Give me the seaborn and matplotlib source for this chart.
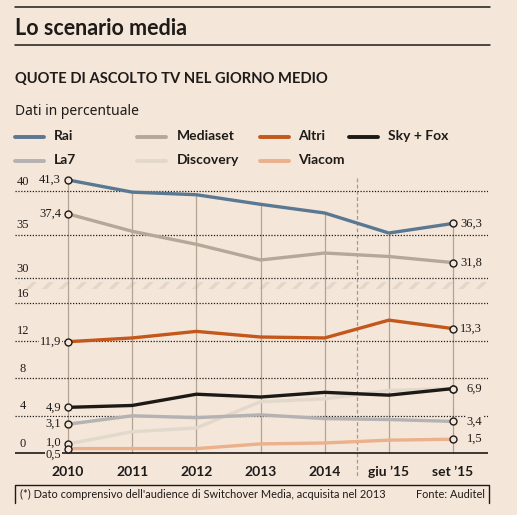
import matplotlib
matplotlib.use('Agg')
import matplotlib.pyplot as plt
from matplotlib import transforms
from matplotlib.lines import Line2D
from matplotlib.patches import Rectangle
import pandas as pd
import seaborn as sns

# dati (quote % di ascolto nel giorno medio)
periodi = ['2010', '2011', '2012', '2013', '2014', 'giu ’15', 'set ’15']
rai = [41.3, 39.9, 39.6, 38.5, 37.5, 35.2, 36.3]
mediaset = [37.4, 35.4, 33.9, 32.1, 32.9, 32.5, 31.8]
altri = [11.9, 12.3, 13.0, 12.4, 12.3, 14.2, 13.3]
sky_fox = [4.9, 5.1, 6.3, 6.0, 6.5, 6.2, 6.9]
la7 = [3.1, 4.0, 3.8, 4.1, 3.7, 3.6, 3.4]
discovery = [1.0, 2.3, 2.7, 5.5, 5.8, 6.7, 6.9]
viacom = [0.5, 0.5, 0.5, 1.0, 1.1, 1.4, 1.5]

emittenti = ['Rai', 'Mediaset', 'Altri', 'Sky + Fox', 'La7', 'Discovery', 'Viacom']
serie = [rai, mediaset, altri, sky_fox, la7, discovery, viacom]
colori = ['#5b7892', '#b5a898', '#c4571c', '#1d1a15', '#b4b2b2', '#e2d8cc', '#ebb08c']
ordine_disegno = ['Discovery', 'La7', 'Viacom', 'Mediaset', 'Altri', 'Sky + Fox', 'Rai']

tick_alti = [30, 35, 40]
tick_bassi = [0, 4, 8, 12, 16]

BG = '#f4e6d9'
DARK = '#1e1b18'
SANS = ['Lato', 'DejaVu Sans']
SERIF = ['Liberation Serif', 'DejaVu Serif']

sns.set_style('white', {'axes.facecolor': 'none', 'figure.facecolor': BG})
plt.rcParams['font.family'] = SANS
plt.rcParams['hatch.linewidth'] = 2.5

W, H = 517, 515
fig = plt.figure(figsize=(W / 100, H / 100), dpi=100)


def fx(px):
    return px / W


def fy(py):
    return 1 - py / H


df = pd.DataFrame({
    'pos': list(range(len(periodi))) * len(emittenti),
    'quota': [v for s in serie for v in s],
    'emittente': [e for e in emittenti for _ in periodi],
})
palette = dict(zip(emittenti, colori))

ax_up = fig.add_axes([fx(15), fy(282.6), fx(488) - fx(15), (282.6 - 175.6) / H])
ax_lo = fig.add_axes([fx(15), fy(456.1), fx(488) - fx(15), (456.1 - 289.2) / H])
ax_up.set_ylim(29.5, 41.8)
ax_lo.set_ylim(-0.3, 17.5)

for ax in (ax_up, ax_lo):
    sns.lineplot(data=df, x='pos', y='quota', hue='emittente', hue_order=ordine_disegno,
                 palette=palette, linewidth=2.4, legend=False, sort=False, ax=ax, zorder=3)
    ax.set_xlim(-0.826, 6.545)
    sns.despine(ax=ax, left=True, bottom=True)
    ax.set_xlabel('')
    ax.set_ylabel('')
    ax.set_yticks([])
    ax.tick_params(length=0)

ax_up.set_xticks([])
ax_lo.set_xticks(range(len(periodi)))
ax_lo.set_xticklabels(periodi, fontsize=10, fontweight='bold', color=DARK)
ax_lo.tick_params(axis='x', pad=7)

# griglia punteggiata e etichette dell'asse y
for ax, ticks in ((ax_up, tick_alti), (ax_lo, tick_bassi)):
    for t in ticks:
        if t == 0:
            ax.axhline(t, color=DARK, lw=1.2, zorder=1)
        else:
            ax.axhline(t, color=DARK, lw=0.9, ls=(0, (1, 1.3)), zorder=1)
        ax.annotate(str(t), xy=(0.017, t), xycoords=('axes fraction', 'data'),
                    xytext=(0, 2.5), textcoords='offset points', ha='center', va='bottom',
                    fontsize=9, family=SERIF, color=DARK)

# linee verticali dagli anni fino al valore Rai
to_fig = fig.transFigure.inverted()
vert = transforms.blended_transform_factory(ax_lo.transData, fig.transFigure)
for i, top in enumerate(rai):
    y0 = to_fig.transform(ax_lo.transData.transform((i, 0)))[1]
    y1 = to_fig.transform(ax_up.transData.transform((i, top)))[1]
    fig.add_artist(Line2D([i, i], [y0, y1], transform=vert, color='#b3a392', lw=0.9, zorder=-1))

# separatore giu '15
fig.add_artist(Line2D([4.5, 4.5], [fy(178), fy(478)], transform=vert, color='#a89886',
                      lw=0.9, ls=(0, (3, 2)), zorder=-1))

# interruzione dell'asse
fig.add_artist(Rectangle((fx(18), fy(289)), fx(487) - fx(18), 7 / H, transform=fig.transFigure,
                         facecolor=BG, edgecolor='#e4d6c8', lw=0, hatch='//', zorder=-2))

# punti iniziali/finali e valori
for ax in (ax_up, ax_lo):
    for s in serie:
        ax.plot([0, len(periodi) - 1], [s[0], s[-1]], ls='none', marker='o', ms=5,
                mfc=BG, mec=DARK, mew=1, zorder=5)

box = dict(facecolor=BG, edgecolor='none', pad=0.6)
for s in serie:
    ax = ax_up if s[0] > 20 else ax_lo
    dy = -4.2 if s is viacom else (0.8 if s is discovery else 0)
    ax.annotate(f'{s[0]:.1f}'.replace('.', ','), xy=(0, s[0]), xytext=(-5, dy),
                textcoords='offset points', ha='right', va='center', fontsize=9,
                family=SERIF, color=DARK, bbox=box, zorder=4)
fatti = set()
for s in serie:
    if s[-1] in fatti:
        continue
    fatti.add(s[-1])
    ax = ax_up if s[-1] > 20 else ax_lo
    ax.annotate(f'{s[-1]:.1f}'.replace('.', ','), xy=(len(periodi) - 1, s[-1]), xytext=(21, 0),
                textcoords='offset points', ha='right', va='center', fontsize=9,
                family=SERIF, color=DARK, bbox=box, zorder=4)

# intestazione
for py in (7, 45):
    fig.add_artist(Line2D([fx(15), fx(490)], [fy(py), fy(py)], color=DARK, lw=1.1))
fig.text(fx(15), fy(35), 'Lo scenario media', fontsize=15.5, fontweight='bold',
         color=DARK, va='baseline')
fig.text(fx(15), fy(83.3), 'QUOTE DI ASCOLTO TV NEL GIORNO MEDIO', fontsize=10.6,
         fontweight='bold', color=DARK, va='baseline')
fig.text(fx(15), fy(115), 'Dati in percentuale', fontsize=10, family=['Noto Sans', 'DejaVu Sans'],
         color=DARK, va='baseline')

# legenda
leg_x = [(15, 54), (137, 177), (260, 298), (349, 388)]
leg_y = [136.5, 160.5]
for k, (nome, col) in enumerate(zip(emittenti, colori)):
    r, c = (0, k) if k < 4 else (1, k - 4)
    x0, xt = leg_x[c]
    fig.add_artist(Line2D([fx(x0), fx(x0 + 29)], [fy(leg_y[r])] * 2, color=col, lw=2.8))
    fig.text(fx(xt), fy(leg_y[r]), nome, fontsize=10, fontweight='bold', color=DARK, va='center')

# nota e fonte
fig.add_artist(Line2D([fx(15), fx(15), fx(489), fx(489)], [fy(503), fy(485), fy(485), fy(503)],
                      color=DARK, lw=1))
fig.text(fx(20), fy(494.5), "(*) Dato comprensivo dell'audience di Switchover Media, acquisita nel 2013",
         fontsize=7.9, color=DARK, va='center')
fig.text(fx(485), fy(494.5), 'Fonte: Auditel', fontsize=7.9, color=DARK,
         va='center', ha='right')

fig.savefig('out.png', dpi=100, facecolor=BG)
